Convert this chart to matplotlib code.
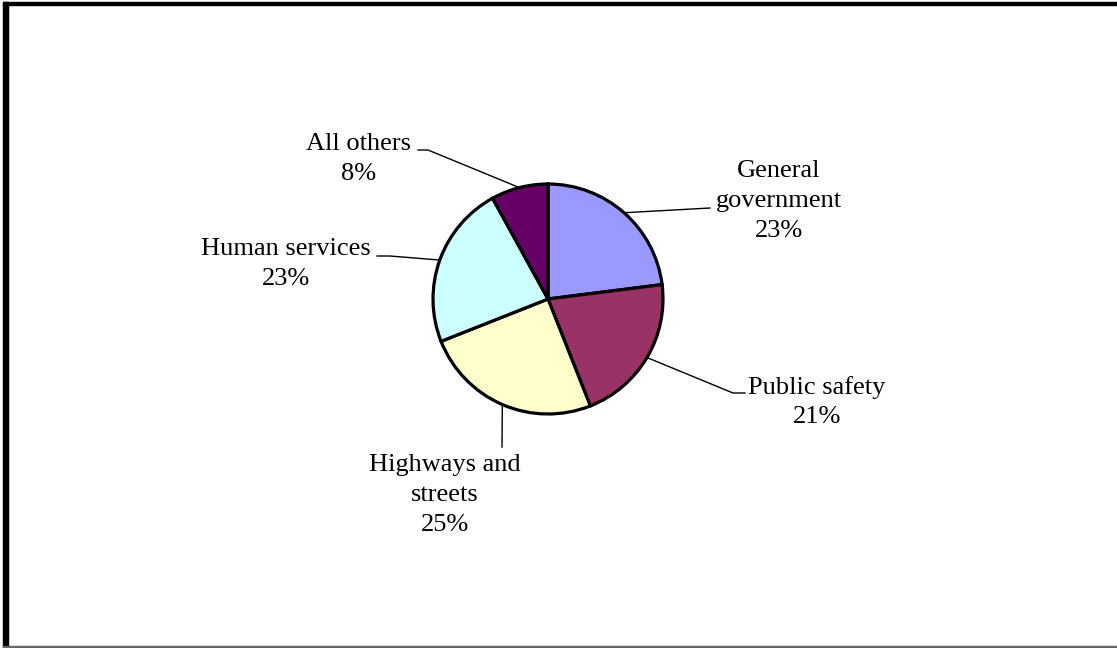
import numpy as np
import matplotlib
matplotlib.use("Agg")
import matplotlib.pyplot as plt
from matplotlib.patches import Rectangle

categories = ["General\ngovernment", "Public safety", "Highways and\nstreets", "Human services", "All others"]
values = [23, 21, 25, 23, 8]
colors = ["#9999FF", "#993366", "#FFFFCC", "#CCFFFF", "#660066"]

# layout (pixel coordinates, y measured from top)
W, H = 1117, 648
center = (548, 299)
radius = 115
label_pos = [(779, 201), (817, 402), (445, 495), (286, 264), (359, 159)]
elbow = [(710, 208), (733, 393), (502, 447), (390, 256), (428, 150)]
line_end = [(710, 208), (745, 393), (502, 447), (377, 256), (418, 150)]

fig = plt.figure(figsize=(W / 100, H / 100), dpi=100)
ax = fig.add_axes([0, 0, 1, 1])
ax.set_xlim(0, W)
ax.set_ylim(0, H)
ax.set_aspect("equal")
ax.axis("off")

wedges, _ = ax.pie(values, colors=colors, startangle=90, counterclock=False,
                   center=(center[0], H - center[1]), radius=radius,
                   wedgeprops=dict(edgecolor="black", linewidth=2.3))
ax.set_xlim(0, W)
ax.set_ylim(0, H)

for w, cat, v, lp, el, le in zip(wedges, categories, values, label_pos, elbow, line_end):
    ang = np.deg2rad((w.theta1 + w.theta2) / 2)
    px = w.center[0] + w.r * np.cos(ang)
    py = w.center[1] + w.r * np.sin(ang)
    ax.plot([px, el[0], le[0]], [py, H - el[1], H - le[1]], color="black", lw=1.0)
    ax.text(lp[0], H - lp[1], f"{cat}\n{v}%", ha="center", va="center",
            fontsize=19, family="Liberation Serif", linespacing=1.45)

# frame
fig.patches.append(Rectangle((3 / W, 0), 5 / W, 1 - 2 / H, transform=fig.transFigure,
                             color="black", zorder=10))
fig.patches.append(Rectangle((3 / W, 1 - 5 / H), 1 - 3 / W, 3 / H, transform=fig.transFigure,
                             color="black", zorder=10))
fig.patches.append(Rectangle((3 / W, 0), 1 - 3 / W, 2 / H, transform=fig.transFigure,
                             color="#666666", zorder=10))

fig.savefig("out.png", dpi=100)
